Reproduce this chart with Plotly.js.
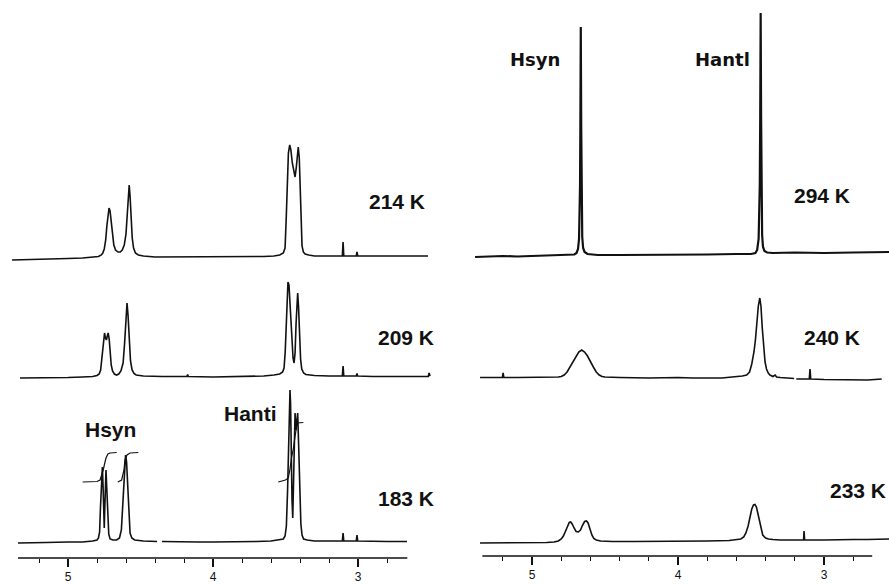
<!DOCTYPE html>
<html><head><meta charset="utf-8">
<script src="https://cdn.plot.ly/plotly-3.0.1.min.js"></script>
<style>html,body{margin:0;padding:0;background:#fff}#chart{width:889px;height:584px}</style>
</head><body><div id="chart"></div>
<script>
// chemical shift (ppm) , relative intensity pairs
const spec214 = [[5.386,-2],[5.30,-1.5],[5.20,-1],[5.10,-1],[5.00,-0.5],[4.90,0],[4.83,0.5],[4.79,1.5],[4.77,3],[4.76,5],[4.75,9],[4.74,18],[4.732,32],[4.724,45],[4.717,50],[4.71,47],[4.702,36],[4.694,22],[4.684,13],[4.672,8],[4.655,6],[4.64,6],[4.626,8],[4.612,13],[4.600,24],[4.592,42],[4.585,62],[4.578,73],[4.572,62],[4.565,40],[4.557,20],[4.548,10],[4.535,5],[4.515,3],[4.48,2],[4.40,1],[4.20,1],[4.00,1],[3.80,1],[3.65,1.5],[3.58,2],[3.54,3],[3.515,5],[3.503,10],[3.495,40],[3.488,85],[3.480,105],[3.471,113],[3.463,108],[3.453,95],[3.443,85],[3.434,81],[3.426,90],[3.419,105],[3.412,111],[3.405,100],[3.398,70],[3.392,30],[3.386,12],[3.377,6],[3.365,4],[3.34,3],[3.30,2],[3.20,2],[3.108,2],[3.103,16],[3.098,2],[3.05,2],[3.012,2],[3.007,6],[3.002,2],[2.90,2],[2.80,2],[2.70,2],[2.60,2],[2.517,2]];
const spec209 = [[5.331,-1],[5.20,-1],[5.10,-0.5],[5.00,-0.5],[4.90,0],[4.83,0.5],[4.80,1.5],[4.785,3],[4.775,7],[4.767,18],[4.760,34],[4.753,43],[4.748,44],[4.742,39],[4.735,37],[4.729,41],[4.723,44],[4.716,38],[4.709,24],[4.702,12],[4.693,6],[4.68,3],[4.665,2],[4.65,3],[4.635,6],[4.620,14],[4.610,33],[4.601,58],[4.593,74],[4.586,62],[4.578,36],[4.569,16],[4.558,7],[4.545,3.5],[4.53,2],[4.48,1],[4.35,0.5],[4.18,0.5],[4.175,2.5],[4.17,0.5],[4.00,0],[3.80,0.5],[3.65,1],[3.58,2],[3.54,3],[3.52,5],[3.510,9],[3.502,25],[3.496,55],[3.489,82],[3.483,95],[3.476,92],[3.469,75],[3.462,52],[3.455,32],[3.448,19],[3.441,14],[3.434,24],[3.427,54],[3.421,80],[3.416,84],[3.410,70],[3.403,40],[3.396,18],[3.388,8],[3.375,4],[3.36,2.5],[3.30,1.5],[3.20,1],[3.108,1],[3.103,11],[3.098,1],[3.012,1],[3.007,3.5],[3.002,1],[2.90,0.5],[2.70,0.5],[2.55,0.5],[2.515,0.5],[2.510,4],[2.503,1]];
const spec183 = [[5.345,-1],[5.25,-1],[5.15,-0.5],[5.00,0],[4.90,0],[4.83,1],[4.80,2],[4.790,4],[4.782,10],[4.776,35],[4.770,62],[4.763,75],[4.758,55],[4.754,22],[4.750,14],[4.746,35],[4.742,62],[4.738,72],[4.733,55],[4.727,25],[4.719,8],[4.71,3],[4.69,2],[4.665,2],[4.645,4],[4.632,12],[4.621,40],[4.611,72],[4.603,87],[4.596,80],[4.589,55],[4.581,25],[4.572,9],[4.56,4],[4.54,2],[4.48,1],[4.386,0.5],[null,null],[4.352,0.5],[4.25,0],[4.10,0],[4.00,0],[3.85,0],[3.70,0.5],[3.60,1],[3.55,2],[3.515,3],[3.503,6],[3.494,16],[3.486,50],[3.479,100],[3.473,145],[3.469,152],[3.465,138],[3.460,80],[3.455,42],[3.450,24],[3.445,60],[3.440,110],[3.434,129],[3.428,112],[3.422,118],[3.416,129],[3.410,100],[3.402,50],[3.394,18],[3.386,7],[3.375,3],[3.35,2],[3.30,1],[3.20,1],[3.108,1],[3.103,9],[3.098,1],[3.012,1],[3.007,7],[3.002,1],[2.90,0.5],[2.80,0.5],[2.662,0.5]];
const integ183a = [[4.899,60],[4.85,60],[4.80,60.5],[4.779,62],[4.768,66],[4.757,72],[4.748,78],[4.738,84],[4.725,88],[4.710,89],[4.664,89.5]];
const integ183b = [[4.657,60],[4.630,62],[4.614,72],[4.607,82],[4.593,87],[4.572,89],[4.515,89.5]];
const integ183c = [[3.550,60],[3.50,62],[3.481,64],[3.47,72],[3.458,85],[3.447,92],[3.435,105],[3.425,115],[3.419,119],[3.377,119.5]];
const spec294 = [[5.39,0],[5.30,0.5],[5.20,1],[5.10,0.5],[5.00,1],[4.90,1.5],[4.80,1.5],[4.74,2],[4.71,2.5],[4.695,4],[4.685,8],[4.678,18],[4.674,40],[4.671,72],[4.669,130],[4.666,230],[4.663,130],[4.660,50],[4.656,20],[4.650,9],[4.640,5],[4.620,3],[4.55,2],[4.40,2],[4.20,2],[4.00,2.5],[3.80,2.5],[3.60,3],[3.50,3],[3.47,4],[3.458,7],[3.448,18],[3.443,45],[3.440,72],[3.437,140],[3.434,244],[3.431,140],[3.428,55],[3.424,22],[3.418,10],[3.408,6],[3.39,4.5],[3.35,4],[3.20,4.5],[3.00,4],[2.80,4.5],[2.555,5]];
const spec240 = [[5.356,0.5],[5.25,0.5],[5.203,0.5],[5.198,5],[5.193,0.5],[5.10,0.5],[5.00,0.5],[4.90,0.5],[4.84,0.8],[4.82,1],[4.80,1.5],[4.78,3],[4.76,6],[4.74,11],[4.72,16],[4.70,22],[4.68,26],[4.66,28],[4.64,26],[4.62,22],[4.60,16],[4.58,11],[4.56,6],[4.54,3],[4.52,1.5],[4.50,1],[4.40,0.5],[4.20,0],[4.00,0.5],[3.90,0],[3.70,0],[3.60,1],[3.56,2],[3.53,3],[3.51,6],[3.495,14],[3.487,20],[3.480,26],[3.470,38],[3.460,56],[3.450,72],[3.440,80],[3.432,72],[3.423,50],[3.414,30],[3.404,16],[3.394,9],[3.382,5],[3.37,3],[3.35,1.5],[3.335,3],[3.325,1],[3.30,0.5],[3.25,0],[3.205,-0.5],[null,null],[3.19,-1],[3.15,-1],[3.101,-1],[3.096,9],[3.091,-1],[3.00,-1.5],[2.90,-1.5],[2.80,-2],[2.70,-2],[2.605,-1]];
const spec233 = [[5.356,0],[5.20,0],[5.00,0.5],[4.90,0.5],[4.85,1],[4.82,2],[4.80,4],[4.785,7],[4.770,12],[4.757,17],[4.745,20.5],[4.735,21],[4.725,19],[4.712,15],[4.698,11.5],[4.683,11],[4.668,13],[4.655,17.5],[4.640,21.5],[4.627,22],[4.616,20],[4.603,14],[4.590,8],[4.577,4.5],[4.56,3],[4.53,2],[4.45,1.5],[4.30,1.5],[4.10,1.5],[4.00,1.5],[3.80,2],[3.65,2.5],[3.60,3],[3.57,4],[3.55,6],[3.535,10],[3.52,17],[3.507,27],[3.495,34],[3.483,38],[3.473,38.5],[3.463,36],[3.452,29],[3.442,20],[3.432,13],[3.42,8],[3.40,5],[3.38,4],[3.35,3.5],[3.30,3],[3.20,3],[3.14,3],[3.137,12],[3.133,3],[3.00,3],[2.90,3.5],[2.80,3.5],[2.70,3.5],[2.555,4]];
const majorTicks = [5, 4, 3];
const majorTickText = ['5', '4', '3'];
const minorTicks = [5.2, 4.8, 4.6, 4.4, 4.2, 3.8, 3.6, 3.4, 3.2, 2.8];
const tempLabels = ['214 K', '209 K', '183 K', '294 K', '240 K', '233 K'];

const W = 889, H = 584;
const px = v => v / W, py = v => 1 - v / H;
const BLACK = '#111';

function tr(data, xa, ya, w) {
  return {type: 'scatter', mode: 'lines', x: data.map(d => d[0]), y: data.map(d => d[1]),
    xaxis: xa, yaxis: ya, connectgaps: false, hoverinfo: 'skip',
    line: {color: BLACK, width: w, shape: 'linear'}};
}
const traces = [
  tr(spec214, 'x', 'y', 1.6), tr(spec209, 'x', 'y2', 1.6), tr(spec183, 'x', 'y3', 1.6),
  tr(integ183a, 'x', 'y3', 1.2), tr(integ183b, 'x', 'y3', 1.2), tr(integ183c, 'x', 'y3', 1.2),
  tr(spec294, 'x2', 'y4', 2.2), tr(spec240, 'x2', 'y5', 1.6), tr(spec233, 'x2', 'y6', 1.6)
];

// baselines (pixel rows) used to place each stacked spectrum
function yax(base, over, anchor) {
  const a = {range: [base - H, base], domain: [0, 1], visible: false, fixedrange: true, anchor: anchor};
  if (over) a.overlaying = over;
  return a;
}
function xax(domain, range, pos) {
  return {domain: domain, range: range, anchor: 'free', position: pos, showline: false,
    showgrid: false, zeroline: false, tickmode: 'array', tickvals: majorTicks, ticktext: majorTickText,
    ticks: 'outside', ticklen: 8, tickwidth: 1.2, tickcolor: BLACK, ticklabelstandoff: 0,
    tickfont: {family: 'Liberation Sans, Arial, sans-serif', size: 12, color: BLACK},
    minor: {tickmode: 'array', tickvals: minorTicks, ticks: 'outside', ticklen: 4, tickwidth: 1, tickcolor: BLACK, showgrid: false}};
}
const posL = (H - 558) / H, posR = (H - 556) / H;
const split = 445 / W;

function ann(text, x, y, size, fam, xanchor) {
  return {text: text, xref: 'paper', yref: 'paper', x: px(x), y: py(y), showarrow: false,
    xanchor: xanchor || 'center', yanchor: 'middle',
    font: {family: fam || 'Liberation Sans, Arial, sans-serif', size: size, color: BLACK, weight: 'bold'}};
}

const layout = {
  width: W, height: H, margin: {l: 0, r: 0, t: 0, b: 0},
  paper_bgcolor: '#fff', plot_bgcolor: 'rgba(0,0,0,0)', showlegend: false,
  xaxis: xax([0, split], [5.469, 2.40], posL),
  xaxis2: xax([split, 1], [5.596, 2.555], posR),
  yaxis: yax(258, null, 'x'), yaxis2: yax(377, 'y', 'x'), yaxis3: yax(542, 'y', 'x'),
  yaxis4: yax(257, null, 'x2'), yaxis5: yax(378, 'y4', 'x2'), yaxis6: yax(543, 'y4', 'x2'),
  shapes: [
    {type: 'line', xref: 'x', yref: 'paper', x0: 5.345, x1: 2.66, y0: posL, y1: posL, line: {color: BLACK, width: 1.3}},
    {type: 'line', xref: 'x2', yref: 'paper', x0: 5.34, x1: 2.67, y0: posR, y1: posR, line: {color: BLACK, width: 1.3}}
  ],
  annotations: [
    ann(tempLabels[0], 397, 202, 21), ann(tempLabels[1], 406, 337, 21), ann(tempLabels[2], 406, 498, 21),
    ann('Hsyn', 110, 430, 21), ann('Hanti', 251, 414, 21),
    ann(tempLabels[3], 822, 195, 21), ann(tempLabels[4], 832, 337, 21), ann(tempLabels[5], 828, 490, 21, null, 'left'),
    ann('Hsyn', 535, 59, 18, 'DejaVu Sans, sans-serif'), ann('Hantl', 722, 59, 18, 'DejaVu Sans, sans-serif')
  ]
};
Plotly.newPlot('chart', traces, layout, {staticPlot: true, displayModeBar: false});
</script></body></html>
